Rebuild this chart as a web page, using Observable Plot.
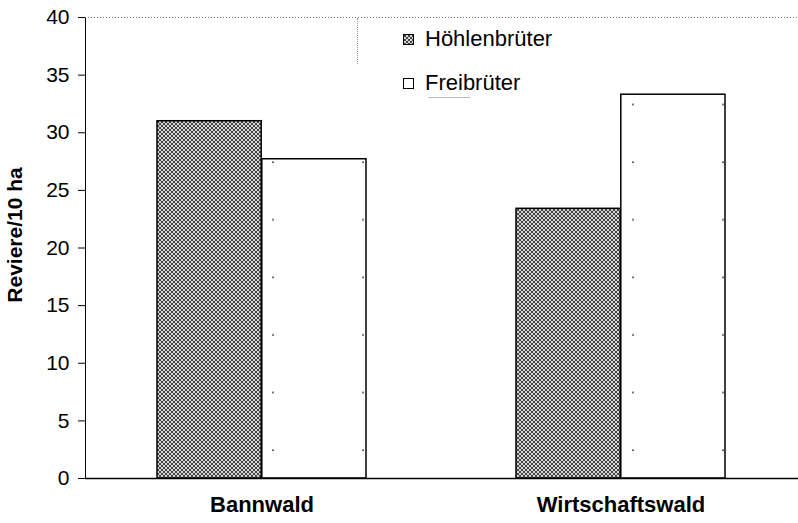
<!DOCTYPE html>
<html>
<head>
<meta charset="utf-8">
<script src="https://cdn.jsdelivr.net/npm/d3@7"></script>
<script src="https://cdn.jsdelivr.net/npm/@observablehq/plot@0.6"></script>
<style>
  html, body { margin: 0; padding: 0; background: #fff; }
  #wrap { position: relative; width: 798px; height: 523px; font-family: "Liberation Sans", Arial, sans-serif; }
  [aria-label^="x-axis"] text { font-weight: bold; font-size: 22px; }
  [aria-label^="y-axis"] text { font-size: 21px; }
  #legend { position: absolute; left: 403px; top: 17px; font-size: 22px; color: #000; line-height: 44px; }
  #legend .item { display: flex; align-items: center; white-space: nowrap; }
  #legend svg { margin-right: 11px; }
  #vline { position: absolute; left: 357px; top: 18px; height: 46px; border-left: 1px dotted #999; }
  #hline { position: absolute; left: 428px; top: 97px; width: 42px; border-top: 1px solid #bbb; }
</style>
</head>
<body>
<div id="wrap"></div>
<script>
const categories = ["Bannwald", "Wirtschaftswald"];
const series = ["Höhlenbrüter", "Freibrüter"];
const hoehlenValues = [31.0, 23.4];
const freiValues = [27.7, 33.3];
const yTicks = [0, 5, 10, 15, 20, 25, 30, 35, 40];
const yLabel = "Reviere/10 ha";

const data = categories.map((c, i) => ({category: c, hoehlen: hoehlenValues[i], frei: freiValues[i]}));
const half = 104.8;

const chart = Plot.plot({
  width: 798,
  height: 523,
  marginLeft: 85,
  marginRight: 0,
  marginTop: 17,
  marginBottom: 45,
  style: {fontFamily: "'Liberation Sans', Arial, sans-serif", fontSize: "21px", color: "#000", background: "#fff", overflow: "visible"},
  x: {domain: categories, paddingInner: 0.4167, paddingOuter: 0.2, label: null, tickSize: 0, tickPadding: 18},
  y: {domain: [0, 40], ticks: yTicks, tickFormat: d3.format("d"), label: null, tickSize: 7, tickPadding: 9, line: true},
  marks: [
    Plot.ruleY([40], {stroke: "#777", strokeDasharray: "1,2"}),
    Plot.barY(data, {x: "category", y: "hoehlen", fill: "url(#hatch)", stroke: "#000", strokeWidth: 1.5, insetRight: half}),
    Plot.barY(data, {x: "category", y: "frei", fill: "url(#dots)", stroke: "#000", strokeWidth: 1.5, insetLeft: half}),
    Plot.ruleY([0], {stroke: "#000", strokeWidth: 1.5}),
    Plot.text([yLabel], {text: d => d, frameAnchor: "left", textAnchor: "middle", dx: -70, dy: -13, rotate: -90, fontWeight: "bold", fontSize: 21})
  ]
});

const ns = "http://www.w3.org/2000/svg";
const defs = document.createElementNS(ns, "defs");
defs.innerHTML = `
  <pattern id="hatch" width="4" height="4" patternUnits="userSpaceOnUse">
    <rect width="4" height="4" fill="#d4d4d4"/>
    <path d="M0,0 L4,4 M4,0 L0,4" stroke="#222" stroke-width="0.8"/>
  </pattern>
  <pattern id="dots" width="90" height="57.6" patternUnits="userSpaceOnUse" x="270" y="17">
    <rect width="90" height="57.6" fill="#fff"/>
    <circle cx="3" cy="30" r="0.9" fill="#333"/>
  </pattern>`;
chart.insertBefore(defs, chart.firstChild);

const wrap = document.getElementById("wrap");
wrap.appendChild(chart);

const swatch = (id) => `<svg width="11" height="11"><rect x="0.5" y="0.5" width="10" height="10" fill="url(#${id})" stroke="#000" stroke-width="1"/></svg>`;
const legend = document.createElement("div");
legend.id = "legend";
legend.innerHTML = series.map((s, i) => `<div class="item">${swatch(i === 0 ? "hatch" : "dots")}<span>${s}</span></div>`).join("");
wrap.appendChild(legend);
const vline = document.createElement("div"); vline.id = "vline"; wrap.appendChild(vline);
const hline = document.createElement("div"); hline.id = "hline"; wrap.appendChild(hline);
</script>
</body>
</html>
